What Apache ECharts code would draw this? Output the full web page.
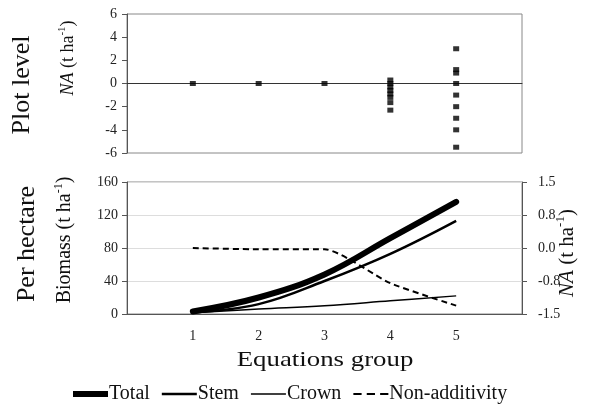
<!DOCTYPE html>
<html>
<head>
<meta charset="utf-8">
<script src="https://cdn.jsdelivr.net/npm/echarts@6/dist/echarts.min.js"></script>
<style>
  html, body { margin: 0; padding: 0; background: #fff; }
  #main { width: 598px; height: 404px; }
</style>
</head>
<body>
<div id="main"></div>
<script>
// equations groups
var groups = [1, 2, 3, 4, 5];
// plot level non-additivity (t/ha), one list per group
var plotNA = [
  [0],
  [0],
  [0],
  [0.3, 0, -0.3, -0.6, -0.9, -1.2, -1.65, -2.3],
  [3.0, 1.2, 0.9, 0, -1.0, -2.0, -3.0, -4.0, -5.5]
];
// per hectare biomass (t/ha)
var total = [3, 20, 48, 92, 136];
var stem = [2, 12, 40, 73, 113];
var crown = [1.5, 6, 10, 16, 22];
// per hectare non-additivity (t/ha), right axis
var nonAdd = [0, -0.03, -0.03, -0.8, -1.31];

var legendNames = ['Total', 'Stem', 'Crown', 'Non-additivity'];

var chart = echarts.init(document.getElementById('main'));
var serif = 'Liberation Serif';

var scatterData = [];
for (var i = 0; i < groups.length; i++) {
  for (var j = 0; j < plotNA[i].length; j++) {
    scatterData.push([groups[i], plotNA[i][j]]);
  }
}
function pairs(arr) {
  return groups.map(function (g, k) { return [g, arr[k]]; });
}

var lblStyle = { color: '#222', fontFamily: serif, fontSize: 14 };
var sideRich = function (size) {
  return {
    i: { fontStyle: 'italic', fontSize: size, fontFamily: serif, fill: '#111', lineHeight: size + 4 },
    n: { fontSize: size, fontFamily: serif, fill: '#111', lineHeight: size + 4 },
    s: { fontSize: Math.round(size * 0.6), fontFamily: serif, fill: '#111', verticalAlign: 'top', lineHeight: size + 4 }
  };
};

// legend icons: thick, medium, thin and dashed strokes
var legendIcons = [
  'path://M0,0H35V6H0Z',
  'path://M0,0H35V2.5H0Z',
  'path://M0,0H35V1.4H0Z',
  'path://M0,0H8V2H0Z M13,0H21V2H13Z M26,0H34V2H26Z'
];

var option = {
  backgroundColor: '#fff',
  animation: false,
  grid: [
    { left: 127, right: 76, top: 14, height: 139, show: true, borderColor: '#888', borderWidth: 1 },
    { left: 127, right: 76, top: 182, height: 132, show: true, borderColor: '#888', borderWidth: 1 }
  ],
  xAxis: [
    {
      gridIndex: 0, type: 'value', min: 0, max: 6, interval: 1,
      axisLine: { onZero: true, lineStyle: { color: '#333', width: 1 } },
      axisTick: { show: false }, axisLabel: { show: false }, splitLine: { show: false }
    },
    {
      gridIndex: 1, type: 'value', min: 0, max: 6, interval: 1,
      axisLine: { lineStyle: { color: '#555', width: 1 } },
      axisTick: { show: false },
      axisLabel: Object.assign({}, lblStyle, {
        margin: 15,
        formatter: function (v) { return groups.indexOf(v) >= 0 ? String(v) : ''; }
      }),
      splitLine: { show: false }
    }
  ],
  yAxis: [
    {
      gridIndex: 0, type: 'value', min: -6, max: 6, interval: 2,
      axisLine: { show: true, lineStyle: { color: '#555' } },
      axisTick: { show: true, length: 5, lineStyle: { color: '#555' } },
      axisLabel: Object.assign({}, lblStyle, { margin: 10 }),
      splitLine: { show: false }
    },
    {
      gridIndex: 1, type: 'value', min: 0, max: 160, interval: 40,
      axisLine: { show: true, lineStyle: { color: '#555' } },
      axisTick: { show: true, length: 5, lineStyle: { color: '#555' } },
      axisLabel: Object.assign({}, lblStyle, { margin: 9 }),
      splitLine: { show: true, lineStyle: { color: '#ddd', width: 1 } }
    },
    {
      gridIndex: 1, type: 'value', position: 'right', min: -1.5, max: 1.5, interval: 0.75,
      axisLine: { show: true, lineStyle: { color: '#555' } },
      axisTick: { show: true, length: 5, lineStyle: { color: '#555' } },
      axisLabel: Object.assign({}, lblStyle, {
        margin: 16,
        formatter: function (v) { return v.toFixed(1); }
      }),
      splitLine: { show: false }
    }
  ],
  legend: {
    top: 379, left: 68,
    itemWidth: 35, itemHeight: 14, itemGap: 12,
    textStyle: { fontFamily: serif, fontSize: 20, color: '#111', padding: [0, 0, 0, -4] },
    data: legendNames.map(function (n, k) { return { name: n, icon: legendIcons[k] }; })
  },
  series: [
    {
      type: 'scatter', xAxisIndex: 0, yAxisIndex: 0,
      symbol: 'rect', symbolSize: [6, 5],
      itemStyle: { color: '#000' },
      data: scatterData
    },
    {
      name: 'Total', type: 'line', xAxisIndex: 1, yAxisIndex: 1,
      smooth: 0.4, symbol: 'none',
      lineStyle: { color: '#000', width: 6, cap: 'round' },
      itemStyle: { color: '#000' },
      data: pairs(total)
    },
    {
      name: 'Stem', type: 'line', xAxisIndex: 1, yAxisIndex: 1,
      smooth: 0.4, symbol: 'none',
      lineStyle: { color: '#000', width: 2.5 },
      itemStyle: { color: '#000' },
      data: pairs(stem)
    },
    {
      name: 'Crown', type: 'line', xAxisIndex: 1, yAxisIndex: 1,
      smooth: 0.4, symbol: 'none',
      lineStyle: { color: '#000', width: 1.4 },
      itemStyle: { color: '#000' },
      data: pairs(crown)
    },
    {
      name: 'Non-additivity', type: 'line', xAxisIndex: 1, yAxisIndex: 2,
      smooth: 0.2, symbol: 'none',
      lineStyle: { color: '#000', width: 2, type: [6, 4] },
      itemStyle: { color: '#000' },
      data: pairs(nonAdd)
    }
  ],
  graphic: [
    {
      type: 'text', x: 22, y: 85, rotation: Math.PI / 2,
      style: { text: 'Plot level', fontFamily: serif, fontSize: 26, fill: '#111', align: 'center', verticalAlign: 'middle' }
    },
    {
      type: 'text', x: 68, y: 58, rotation: Math.PI / 2,
      style: { text: '{i|NA}{n| (t ha}{s|-1}{n|)}', rich: sideRich(18), align: 'center', verticalAlign: 'middle' }
    },
    {
      type: 'text', x: 27, y: 244, rotation: Math.PI / 2,
      style: { text: 'Per hectare', fontFamily: serif, fontSize: 26, fill: '#111', align: 'center', verticalAlign: 'middle' }
    },
    {
      type: 'text', x: 65, y: 240, rotation: Math.PI / 2,
      style: { text: '{n|Biomass (t ha}{s|-1}{n|)}', rich: sideRich(20), align: 'center', verticalAlign: 'middle' }
    },
    {
      type: 'text', x: 567, y: 253, rotation: Math.PI / 2,
      style: { text: '{i|NA}{n| (t ha}{s|-1}{n|)}', rich: sideRich(21), align: 'center', verticalAlign: 'middle' }
    },
    {
      type: 'text', x: 325, y: 360, scaleX: 1.22,
      style: { text: 'Equations group', fontFamily: serif, fontSize: 22, fill: '#111', align: 'center', verticalAlign: 'middle' }
    }
  ]
};

chart.setOption(option);
</script>
</body>
</html>
